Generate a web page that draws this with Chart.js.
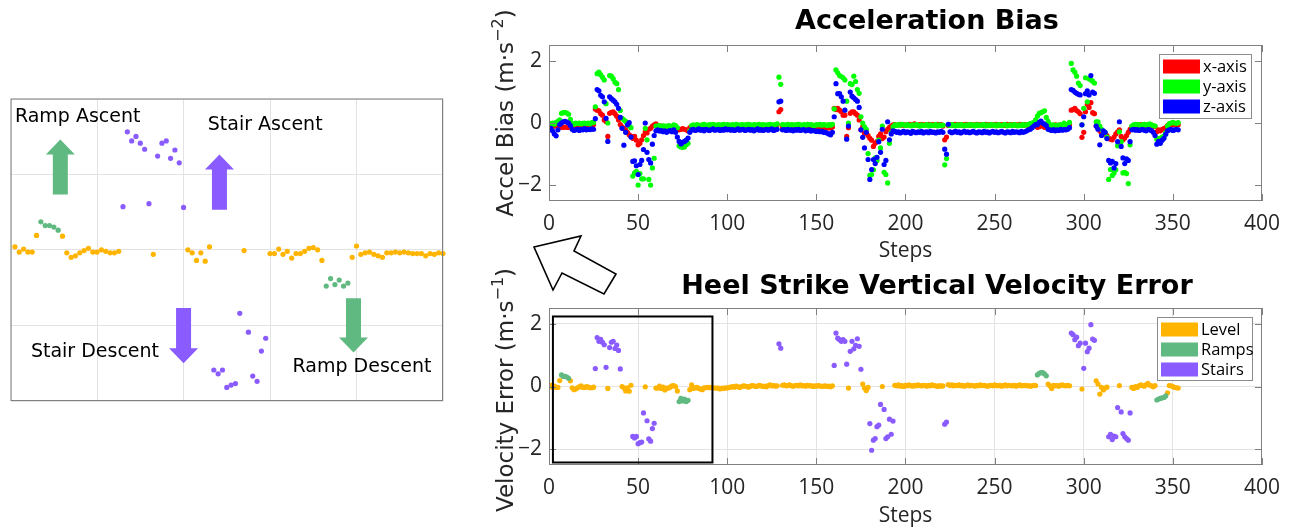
<!DOCTYPE html>
<html>
<head>
<meta charset="utf-8">
<script src="https://cdn.jsdelivr.net/npm/chart.js@4"></script>
<style>
  html, body { margin: 0; padding: 0; background: #fff; }
  body { width: 1290px; height: 529px; position: relative; overflow: hidden; }
  canvas, svg { position: absolute; }
</style>
</head>
<body>
<canvas id="inset" width="438" height="308" style="left:8px;top:96px"></canvas>
<canvas id="bias" width="810" height="268" style="left:480px;top:0px"></canvas>
<canvas id="velocity" width="810" height="261" style="left:480px;top:268px"></canvas>
<svg width="1290" height="529" style="left:0;top:0;pointer-events:none">
  <!-- pointer from the zoom box to the enlarged view -->
  <polygon points="534,247 581,236 574,251 616,274 604,294 562,273 553,290"
           fill="#fff" stroke="#000" stroke-width="1.6" stroke-linejoin="miter"/>
</svg>
<script>
// step index of every heel strike
const steps = Array.from({ length: 353 }, (_, i) => i + 1);

// accelerometer bias estimate per step (m/s^2)
const biasX = [
  -0.06,-0.08,-0.10,-0.08,-0.06,-0.10,-0.14,-0.14,-0.13,-0.14,
  -0.14,-0.10,-0.08,-0.06,-0.08,-0.06,-0.08,-0.10,-0.06,-0.08,
  -0.07,-0.06,-0.09,-0.06,-0.05,0.45,0.41,0.39,0.30,0.25,
  0.10,0.05,-0.43,0.31,0.34,0.36,0.30,0.22,0.10,-0.05,
  -0.12,-0.18,-0.22,-0.30,-0.38,-0.42,-0.49,-0.43,-0.55,-0.70,
  -0.65,-0.54,-0.40,-0.28,-0.32,-0.20,-0.17,-0.10,-0.06,-0.03,
  -0.12,-0.15,-0.10,-0.14,-0.18,-0.12,-0.10,-0.14,-0.12,-0.16,
  -0.20,-0.18,-0.22,-0.20,-0.18,-0.20,-0.22,-0.25,-0.15,-0.12,
  -0.13,-0.17,-0.15,-0.12,-0.16,-0.14,-0.18,-0.15,-0.13,-0.16,
  -0.14,-0.17,-0.15,-0.13,-0.16,-0.18,-0.14,-0.15,-0.17,-0.13,
  -0.15,-0.16,-0.14,-0.18,-0.15,-0.13,-0.16,-0.15,-0.17,-0.14,
  -0.16,-0.13,-0.15,-0.17,-0.14,-0.16,-0.15,-0.13,-0.17,-0.15,
  -0.14,-0.16,-0.13,-0.15,-0.17,-0.14,-0.10,-0.06,0.36,0.43,
  -0.13,-0.15,-0.17,-0.14,-0.16,-0.15,-0.13,-0.17,-0.15,-0.14,
  -0.16,-0.15,-0.13,-0.17,-0.14,-0.16,-0.15,-0.13,-0.15,-0.17,
  -0.14,-0.16,-0.13,-0.15,-0.17,-0.14,-0.16,-0.15,-0.13,0.47,
  0.43,0.47,0.41,0.36,0.25,0.25,-0.43,-0.15,0.31,0.36,
  0.36,0.30,0.25,0.10,-0.22,-0.12,-0.33,-0.30,-0.40,-0.49,
  -0.55,-0.75,-0.65,-0.60,-0.43,-0.35,-0.50,-0.45,-0.28,-0.20,
  -0.14,-0.10,-0.06,-0.05,-0.08,-0.06,-0.04,-0.07,-0.05,-0.08,
  -0.06,-0.04,-0.07,-0.05,-0.03,-0.06,-0.08,-0.05,-0.04,-0.07,
  -0.05,-0.06,-0.04,-0.08,-0.05,-0.06,-0.07,-0.04,-0.06,-0.05,
  -0.10,-0.54,-0.45,-0.08,-0.05,-0.07,-0.06,-0.04,-0.08,-0.05,
  -0.06,-0.07,-0.05,-0.04,-0.06,-0.08,-0.05,-0.07,-0.06,-0.04,
  -0.07,-0.05,-0.06,-0.08,-0.04,-0.06,-0.05,-0.07,-0.06,-0.05,
  -0.04,-0.07,-0.06,-0.05,-0.08,-0.06,-0.04,-0.07,-0.05,-0.06,
  -0.05,-0.07,-0.06,-0.04,-0.06,-0.08,-0.05,-0.06,-0.07,-0.05,
  -0.06,-0.04,-0.08,-0.14,-0.12,-0.08,-0.10,-0.14,-0.12,-0.10,
  -0.12,-0.08,-0.10,-0.06,-0.09,-0.07,-0.10,-0.08,-0.06,-0.09,
  -0.07,-0.05,0.41,0.43,0.47,0.40,0.36,0.30,-0.46,-0.30,
  0.36,0.60,0.50,0.65,0.33,0.30,-0.10,-0.17,-0.25,-0.33,
  -0.30,-0.35,-0.40,-0.49,-0.52,-0.54,-0.45,-0.35,-0.28,-0.22,
  -0.43,-0.54,-0.48,-0.40,-0.30,-0.20,-0.12,-0.08,-0.10,-0.06,
  -0.08,-0.05,-0.07,-0.09,-0.06,-0.08,-0.05,-0.07,-0.10,-0.12,
  -0.28,-0.22,-0.25,-0.20,-0.18,-0.15,-0.08,-0.05,-0.03,-0.06,
  -0.04,-0.05,-0.06
];
const biasY = [
  -0.02,0.00,-0.04,0.02,0.05,0.10,0.31,0.33,0.34,0.32,
  0.28,0.12,-0.02,-0.04,0.00,-0.02,0.00,-0.03,-0.01,0.00,
  -0.02,0.00,-0.03,0.01,0.02,0.52,1.58,1.63,1.55,1.47,
  1.38,0.62,0.00,1.52,1.50,1.42,1.31,1.26,1.07,0.40,
  0.15,0.10,0.05,-0.05,-0.10,-0.15,-1.70,-1.60,-1.55,-1.99,
  -1.62,-1.79,-1.79,-0.17,-0.54,-1.81,-1.99,-1.44,-1.13,-0.10,
  -0.10,-0.08,-0.12,-0.09,-0.10,-0.14,-0.08,-0.10,-0.12,-0.06,
  -0.08,-0.15,-0.73,-0.77,-0.78,-0.77,-0.70,-0.65,-0.25,-0.08,
  -0.06,-0.08,-0.05,-0.07,-0.09,-0.06,-0.04,-0.07,-0.08,-0.05,
  -0.07,-0.04,-0.06,-0.08,-0.05,-0.07,-0.06,-0.04,-0.07,-0.05,
  -0.06,-0.08,-0.05,-0.07,-0.04,-0.06,-0.08,-0.05,-0.06,-0.07,
  -0.05,-0.04,-0.06,-0.08,-0.05,-0.07,-0.06,-0.04,-0.07,-0.05,
  -0.06,-0.08,-0.05,-0.04,-0.06,-0.07,-0.05,-0.03,1.47,1.24,
  -0.05,-0.07,-0.06,-0.04,-0.08,-0.05,-0.06,-0.07,-0.05,-0.04,
  -0.06,-0.08,-0.05,-0.07,-0.04,-0.06,-0.05,-0.07,-0.08,-0.05,
  -0.06,-0.04,-0.07,-0.05,-0.06,-0.08,-0.05,-0.07,-0.04,0.45,
  1.70,1.61,1.52,1.49,1.45,1.38,0.70,0.00,1.26,1.23,
  1.50,1.33,1.07,0.95,0.20,0.00,-0.12,-0.20,-0.98,-1.68,
  -1.65,-1.50,-1.12,-1.20,-0.55,-0.80,-0.10,-1.58,-1.65,-1.92,
  -0.65,-0.30,-0.12,-0.06,-0.08,-0.05,-0.07,-0.04,-0.06,-0.08,
  -0.05,-0.07,-0.09,-0.06,-0.08,-0.05,-0.07,-0.10,-0.06,-0.08,
  -0.07,-0.05,-0.09,-0.06,-0.08,-0.07,-0.05,-0.09,-0.06,-0.08,
  -0.07,-1.34,-1.14,-0.06,-0.08,-0.05,-0.07,-0.09,-0.06,-0.08,
  -0.05,-0.07,-0.09,-0.06,-0.08,-0.05,-0.07,-0.06,-0.09,-0.05,
  -0.08,-0.06,-0.07,-0.05,-0.09,-0.06,-0.08,-0.05,-0.07,-0.06,
  -0.09,-0.05,-0.07,-0.08,-0.06,-0.05,-0.09,-0.07,-0.06,-0.08,
  -0.05,-0.07,-0.09,-0.06,-0.08,-0.05,-0.07,-0.06,-0.04,-0.02,
  0.00,0.02,0.10,0.22,0.31,0.33,0.36,0.39,0.18,0.05,
  -0.04,-0.08,-0.06,-0.10,-0.07,-0.09,-0.05,-0.08,0.00,-0.06,
  -0.04,0.02,1.91,1.70,1.63,1.50,1.28,1.20,-0.06,0.47,
  1.45,0.68,1.42,1.38,1.34,1.28,0.04,0.04,-0.10,-0.20,
  -0.28,-0.30,-0.45,-1.81,-1.49,-1.68,-1.60,-1.50,-0.73,-0.28,
  -0.60,-1.60,-1.58,-1.62,-1.94,-0.70,-0.10,-0.06,-0.04,-0.07,
  -0.05,-0.08,-0.06,-0.04,-0.07,-0.05,-0.03,-0.06,-0.08,-0.10,
  -0.52,-0.50,-0.48,-0.45,-0.43,-0.31,-0.10,-0.02,0.00,0.02,
  0.00,-0.01,0.01
];
const biasZ = [
  -0.17,-0.25,-0.35,-0.41,-0.22,-0.05,0.00,0.04,0.05,0.03,
  0.00,-0.08,-0.20,-0.24,-0.22,-0.20,-0.24,-0.20,-0.22,-0.18,
  -0.22,-0.20,-0.21,-0.19,-0.20,0.14,1.07,1.03,0.89,0.84,
  0.68,0.15,-0.59,0.84,0.78,0.73,0.68,0.60,0.47,0.18,
  -0.17,-0.71,-0.30,-0.06,0.01,-0.45,-1.23,-1.21,-1.37,-1.65,
  -1.33,-1.20,-0.85,0.00,-0.94,-1.17,-1.28,-0.68,-0.40,-0.25,
  -0.22,-0.26,-0.24,-0.28,-0.25,-0.30,-0.26,-0.24,-0.28,-0.22,
  -0.30,-0.45,-0.59,-0.67,-0.62,-0.59,-0.55,-0.48,-0.30,-0.22,
  -0.20,-0.24,-0.22,-0.19,-0.23,-0.21,-0.25,-0.20,-0.22,-0.24,
  -0.21,-0.19,-0.23,-0.22,-0.20,-0.24,-0.21,-0.23,-0.19,-0.22,
  -0.20,-0.23,-0.21,-0.24,-0.22,-0.19,-0.23,-0.21,-0.20,-0.24,
  -0.22,-0.20,-0.23,-0.21,-0.25,-0.22,-0.19,-0.23,-0.21,-0.24,
  -0.22,-0.20,-0.23,-0.21,-0.19,-0.24,-0.22,-0.20,0.68,0.70,
  -0.22,-0.21,-0.24,-0.20,-0.23,-0.22,-0.25,-0.21,-0.23,-0.20,
  -0.24,-0.22,-0.21,-0.25,-0.23,-0.22,-0.26,-0.24,-0.25,-0.27,
  -0.26,-0.28,-0.27,-0.30,-0.29,-0.32,-0.35,-0.38,-0.30,0.20,
  1.26,0.94,0.94,0.84,0.70,0.41,-0.52,-0.10,0.99,0.86,
  0.81,0.75,0.70,0.50,-0.22,-0.46,-0.80,-0.30,-1.17,-1.81,
  -1.49,-1.17,-1.30,-1.10,-0.60,-0.94,-0.20,-1.33,-1.20,0.04,
  -0.54,-0.35,-0.25,-0.27,-0.30,-0.28,-0.32,-0.29,-0.27,-0.31,
  -0.28,-0.30,-0.33,-0.27,-0.29,-0.31,-0.28,-0.30,-0.27,-0.32,
  -0.29,-0.28,-0.31,-0.27,-0.30,-0.29,-0.32,-0.28,-0.30,-0.27,
  -0.30,-0.84,-1.00,-0.04,-0.28,-0.31,-0.29,-0.27,-0.30,-0.28,
  -0.32,-0.29,-0.27,-0.30,-0.28,-0.31,-0.29,-0.27,-0.30,-0.32,
  -0.28,-0.29,-0.31,-0.27,-0.30,-0.28,-0.32,-0.29,-0.27,-0.30,
  -0.28,-0.31,-0.29,-0.27,-0.30,-0.32,-0.28,-0.29,-0.31,-0.27,
  -0.30,-0.28,-0.29,-0.31,-0.27,-0.30,-0.28,-0.25,-0.22,-0.20,
  -0.15,-0.10,-0.05,-0.06,0.02,0.06,0.00,-0.04,-0.08,-0.20,
  -0.22,-0.24,-0.21,-0.25,-0.22,-0.24,-0.20,-0.23,-0.21,-0.22,
  -0.20,-0.15,1.07,1.05,0.99,0.95,0.92,0.90,-0.06,0.20,
  0.94,1.03,0.90,1.52,0.99,0.95,-0.10,-0.20,-0.70,-0.40,
  -0.25,-0.30,-0.50,-1.20,-1.28,-1.23,-1.44,-1.30,-0.60,0.04,
  -0.75,-1.12,-1.30,-1.15,-1.20,-0.60,-0.22,-0.20,-0.23,-0.21,
  -0.24,-0.22,-0.20,-0.23,-0.25,-0.21,-0.22,-0.24,-0.30,-0.40,
  -0.68,-0.59,-0.65,-0.55,-0.49,-0.36,-0.25,-0.22,-0.20,-0.24,
  -0.22,-0.20,-0.22
];

// vertical velocity error at heel strike (m/s)
const velError = [
  0.04,-0.03,0.01,-0.03,-0.03,0.19,0.37,0.32,0.32,0.30,
  0.26,0.18,-0.04,-0.10,-0.08,-0.04,-0.01,0.02,-0.03,-0.03,
  0.00,-0.02,-0.04,-0.04,-0.02,0.57,1.56,1.44,1.50,1.41,
  1.33,0.61,-0.06,1.24,1.41,1.44,1.21,1.32,1.15,0.56,
  0.00,-0.04,-0.14,-0.04,-0.15,0.04,-1.59,-1.64,-1.59,-1.82,
  -1.79,-1.77,-0.84,-0.01,-1.09,-1.67,-1.74,-1.34,-1.17,-0.05,
  -0.05,0.01,-0.06,-0.02,-0.11,-0.05,-0.05,-0.02,0.02,0.03,
  0.00,-0.14,-0.48,-0.38,-0.46,-0.40,-0.48,-0.44,-0.10,0.05,
  -0.06,-0.04,-0.03,-0.06,-0.08,-0.10,-0.04,-0.04,-0.03,-0.04,
  -0.03,-0.04,-0.05,-0.05,-0.05,-0.08,-0.05,-0.06,-0.04,-0.05,
  -0.03,-0.02,0.00,-0.02,0.01,-0.01,-0.03,0.00,0.02,0.01,
  0.00,-0.02,0.01,0.03,0.02,0.00,0.01,0.04,0.02,0.00,
  0.01,-0.01,0.03,0.05,0.02,0.03,0.01,0.02,1.36,1.22,
  0.04,0.05,0.02,0.03,0.05,0.02,0.01,0.03,0.04,0.02,
  0.05,0.02,0.03,0.01,0.04,0.02,0.03,0.00,0.02,0.01,
  0.03,0.02,0.00,0.01,0.02,0.00,0.01,-0.01,0.02,0.67,
  1.70,1.54,1.49,1.44,1.49,1.44,0.71,-0.05,1.12,1.44,
  1.20,1.31,1.52,1.28,0.55,0.08,-0.05,-0.13,-0.03,-1.18,
  -2.03,-1.71,-1.66,-1.28,-1.23,-0.57,0.00,-0.73,-1.66,-1.60,
  -1.04,-1.52,-1.10,0.04,0.02,0.05,0.01,0.03,0.00,0.04,
  0.02,0.05,0.03,0.01,0.04,0.02,0.05,0.03,0.02,0.04,
  0.03,0.01,0.04,0.02,0.05,0.03,0.02,0.00,0.03,0.01,
  0.02,-1.20,-1.13,0.06,0.03,0.05,0.02,0.04,0.03,0.05,
  0.02,0.04,0.01,0.03,0.05,0.02,0.04,0.03,0.01,0.04,
  0.02,0.05,0.03,0.04,0.02,0.01,0.03,0.04,0.02,0.05,
  0.03,0.02,0.04,0.01,0.03,0.05,0.02,0.04,0.03,0.02,
  0.04,0.01,0.03,0.05,0.02,0.03,0.04,0.02,0.03,0.01,
  0.02,0.04,0.03,0.37,0.42,0.44,0.44,0.40,0.34,0.08,
  0.02,-0.06,0.04,0.02,0.03,0.01,0.04,0.05,0.03,0.02,
  0.04,0.02,1.70,1.65,1.49,1.57,1.30,1.38,-0.08,0.58,
  1.38,1.11,1.22,1.97,1.51,1.47,0.18,0.08,-0.24,-0.03,
  -0.11,-0.05,-0.02,-1.60,-1.52,-1.69,-1.58,-1.60,-0.67,0.03,
  -0.81,-1.50,-1.60,-1.66,-1.71,-0.84,-0.03,-0.06,0.00,-0.03,
  0.02,0.05,0.03,0.01,0.06,0.10,0.04,0.02,-0.01,0.03,
  -0.43,-0.40,-0.38,-0.36,-0.35,-0.30,-0.20,0.03,0.02,0.00,
  -0.03,-0.04,-0.05
];

// terrain at each step: L = level, R = ramp, S = stairs
const terrain = [
  'LLLLLLRRRR','RLLLLLLLLL','LLLLLSSSSS','SSLSSSSSSS','LLLLLLSSSS',
  'SSSLSSSSSL','LLLLLLLLLL','LLRRRRRRLL','LLLLLLLLLL','LLLLLLLLLL',
  'LLLLLLLLLL','LLLLLLLLLL','LLLLLLLLSS','LLLLLLLLLL','LLLLLLLLLL',
  'LLLLLLLLLS','SSSSSSSLSS','SSSSSLLLLS','SSSSSSLSSS','SSSLLLLLLL',
  'LLLLLLLLLL','LLLLLLLLLL','LSSLLLLLLL','LLLLLLLLLL','LLLLLLLLLL',
  'LLLLLLLLLL','LLLLLLLLLL','LLLRRRRRRL','LLLLLLLLLL','LLSSSSSSLS',
  'SSSSSSLLLL','LLLSSSSSSL','SSSSSSLLLL','LLLLLLLLLL','RRRRRRLLLL',
  'LLL'
].join('');

const terrainNames = { L: 'Level', R: 'Ramps', S: 'Stairs' };
const terrainColors = { L: '#ffb400', R: '#60b981', S: '#8a5bff' };
const axisNames = ['x-axis', 'y-axis', 'z-axis'];
const axisColors = ['#ff0000', '#00ff00', '#0000ff'];

const stepTicks = [0, 50, 100, 150, 200, 250, 300, 350, 400];
const valueTicks = [-2, 0, 2];
const insetStepTicks = [0, 20, 40, 60, 80, 100];
const insetValueTicks = [-2, -1, 0, 1, 2];

// the region of the velocity plot that is enlarged on the left
const zoomWindow = { x0: 2.2, x1: 91.7, y0: -2.42, y1: 2.23 };
const insetRange = { xMin: 0, xMax: 100, yMin: -2, yMax: 2 };

// terrain arrows and captions inside the enlarged view (data units)
const insetArrows = [
  { x: 11.5, from: 0.73, to: 1.46, color: terrainColors.R },
  { x: 48.3, from: 0.53, to: 1.26, color: terrainColors.S },
  { x: 40.0, from: -0.77, to: -1.50, color: terrainColors.S },
  { x: 79.3, from: -0.64, to: -1.36, color: terrainColors.R }
];
const insetCaptions = [
  { text: 'Ramp Ascent', x: 1.0, y: 1.76 },
  { text: 'Stair Ascent', x: 45.6, y: 1.65 },
  { text: 'Stair Descent', x: 4.7, y: -1.35 },
  { text: 'Ramp Descent', x: 65.2, y: -1.55 }
];

const tickFont = { family: '"Open Sans"', size: 21 };
const tickColor = '#262626';
const frameColor = '#808080';

const toPoints = vals => vals.map((v, i) => ({ x: steps[i], y: v }));
const byTerrain = (code, maxStep) => velError
  .map((v, i) => ({ x: steps[i], y: v }))
  .filter((p, i) => terrain[i] === code && p.x <= maxStep);
const minusSign = v => String(v).replace('-', '\u2212');
const fixTicks = list => scale => { scale.ticks = list.map(v => ({ value: v })); };

// box around the plot with inward tick marks on all four sides
const frameTicks = {
  id: 'frameTicks',
  afterDatasetsDraw(chart, args, opts) {
    const { ctx, chartArea: a, scales: { x, y } } = chart;
    ctx.save();
    ctx.strokeStyle = opts.color || frameColor;
    ctx.lineWidth = 1;
    ctx.strokeRect(a.left + 0.5, a.top + 0.5, a.width - 1, a.height - 1);
    const len = opts.tickLen || 0;
    if (len) {
      ctx.beginPath();
      x.ticks.forEach(t => {
        const px = Math.round(x.getPixelForValue(t.value)) + 0.5;
        ctx.moveTo(px, a.bottom); ctx.lineTo(px, a.bottom - len);
        ctx.moveTo(px, a.top); ctx.lineTo(px, a.top + len);
      });
      y.ticks.forEach(t => {
        const py = Math.round(y.getPixelForValue(t.value)) + 0.5;
        ctx.moveTo(a.left, py); ctx.lineTo(a.left + len, py);
        ctx.moveTo(a.right, py); ctx.lineTo(a.right - len, py);
      });
      ctx.stroke();
    }
    ctx.restore();
  }
};

// bold panel heading
const panelTitle = {
  id: 'panelTitle',
  afterDraw(chart, args, opts) {
    if (!opts.text) return;
    const { ctx } = chart;
    ctx.save();
    ctx.font = 'bold 27px "DejaVu Sans"';
    ctx.fillStyle = '#000';
    ctx.textAlign = 'center';
    ctx.textBaseline = 'middle';
    ctx.fillText(opts.text, opts.x, opts.y);
    ctx.restore();
  }
};

// rotated y label with a raised exponent, e.g. (m·s^-2)
const sideLabel = {
  id: 'sideLabel',
  afterDraw(chart, args, opts) {
    if (!opts.base) return;
    const { ctx } = chart;
    const main = '23px "DejaVu Sans"', small = '16px "DejaVu Sans"';
    ctx.save();
    ctx.translate(opts.x, opts.y);
    ctx.rotate(-Math.PI / 2);
    ctx.fillStyle = tickColor;
    ctx.textBaseline = 'middle';
    ctx.font = main;
    const w1 = ctx.measureText(opts.base).width;
    const w3 = ctx.measureText(')').width;
    ctx.font = small;
    const w2 = ctx.measureText(opts.exp).width;
    let cx = -(w1 + w2 + w3) / 2;
    ctx.font = main;
    ctx.fillText(opts.base, cx, 0);
    cx += w1;
    ctx.font = small;
    ctx.fillText(opts.exp, cx, -8);
    cx += w2;
    ctx.font = main;
    ctx.fillText(')', cx, 0);
    ctx.restore();
  }
};

// legend box in the upper right corner of the plot
const boxLegend = {
  id: 'boxLegend',
  afterDraw(chart, args, opts) {
    if (!opts.width) return;
    const { ctx, chartArea: a } = chart;
    const x0 = a.right - opts.right - opts.width;
    const y0 = a.top + opts.top;
    ctx.save();
    ctx.fillStyle = '#fff';
    ctx.fillRect(x0, y0, opts.width, opts.height);
    ctx.strokeStyle = '#8c8c8c';
    ctx.lineWidth = 1;
    ctx.strokeRect(x0 + 0.5, y0 + 0.5, opts.width, opts.height);
    ctx.font = '16.5px "Open Sans"';
    ctx.textBaseline = 'middle';
    chart.data.datasets.forEach((ds, i) => {
      const cy = y0 + 12.5 + i * 20;
      ctx.fillStyle = ds.backgroundColor;
      ctx.fillRect(x0 + 4, cy - 7, 37, 14);
      ctx.fillStyle = '#000';
      ctx.fillText(ds.label, x0 + 44, cy + 1);
    });
    ctx.restore();
  }
};

// black rectangle marking the enlarged window
const zoomFrame = {
  id: 'zoomFrame',
  afterDatasetsDraw(chart, args, opts) {
    if (!opts.box) return;
    const { ctx, scales: { x, y } } = chart;
    const l = x.getPixelForValue(opts.box.x0), r = x.getPixelForValue(opts.box.x1);
    const t = y.getPixelForValue(opts.box.y1), b = y.getPixelForValue(opts.box.y0);
    ctx.save();
    ctx.strokeStyle = '#000';
    ctx.lineWidth = 2;
    ctx.strokeRect(l, t, r - l, b - t);
    ctx.restore();
  }
};

// block arrows and captions in the enlarged view
const terrainNotes = {
  id: 'terrainNotes',
  afterDatasetsDraw(chart, args, opts) {
    if (!opts.arrows) return;
    const { ctx, scales: { x, y } } = chart;
    ctx.save();
    opts.arrows.forEach(ar => {
      const cx = x.getPixelForValue(ar.x);
      const tail = y.getPixelForValue(ar.from), tip = y.getPixelForValue(ar.to);
      const dir = Math.sign(tip - tail);
      const base = tip - dir * 15;
      ctx.fillStyle = ar.color;
      ctx.beginPath();
      ctx.moveTo(cx - 7.5, tail);
      ctx.lineTo(cx + 7.5, tail);
      ctx.lineTo(cx + 7.5, base);
      ctx.lineTo(cx + 14.5, base);
      ctx.lineTo(cx, tip);
      ctx.lineTo(cx - 14.5, base);
      ctx.lineTo(cx - 7.5, base);
      ctx.closePath();
      ctx.fill();
    });
    ctx.font = '19px "DejaVu Sans"';
    ctx.fillStyle = '#000';
    ctx.textBaseline = 'middle';
    opts.captions.forEach(c => {
      ctx.fillText(c.text, x.getPixelForValue(c.x), y.getPixelForValue(c.y));
    });
    ctx.restore();
  }
};

const plugins = [frameTicks, panelTitle, sideLabel, boxLegend, zoomFrame, terrainNotes];

function stepAxis(height, titlePad, showGrid) {
  return {
    type: 'linear', min: 0, max: 400,
    afterBuildTicks: fixTicks(stepTicks),
    afterFit: s => { s.height = height; },
    grid: { display: showGrid, color: '#e3e3e3', drawTicks: false },
    border: { display: false },
    ticks: { font: tickFont, color: tickColor, padding: 10, maxRotation: 0 },
    title: { display: true, text: 'Steps', font: tickFont, color: tickColor,
             padding: { top: 0, bottom: titlePad } }
  };
}

function valueAxis(showGrid) {
  return {
    min: -2.5, max: 2.5,
    afterBuildTicks: fixTicks(valueTicks),
    afterFit: s => { s.width = 69; },
    grid: { display: showGrid, color: '#e3e3e3', drawTicks: false },
    border: { display: false },
    ticks: { font: tickFont, color: tickColor, padding: 7, callback: minusSign }
  };
}

const biasSeries = [biasX, biasY, biasZ];

new Chart(document.getElementById('bias'), {
  type: 'scatter',
  plugins,
  data: {
    datasets: biasSeries.map((vals, i) => ({
      label: axisNames[i],
      data: toPoints(vals),
      backgroundColor: axisColors[i],
      borderWidth: 0,
      order: 3 - i
    }))
  },
  options: {
    responsive: false,
    animation: false,
    layout: { padding: { top: 45, right: 21, bottom: 0, left: 0 } },
    elements: { point: { radius: 2.6, hoverRadius: 2.6 } },
    plugins: {
      legend: { display: false },
      tooltip: { enabled: false },
      frameTicks: { tickLen: 7 },
      panelTitle: { text: 'Acceleration Bias', x: 447, y: 22 },
      sideLabel: { base: 'Accel Bias (m\u00b7s', exp: '\u22122', x: 27, y: 113 },
      boxLegend: { width: 92, height: 64, right: 11, top: 9 }
    },
    scales: {
      x: stepAxis(67, 4, false),
      y: valueAxis(false)
    }
  }
});

const codes = ['L', 'R', 'S'];

new Chart(document.getElementById('velocity'), {
  type: 'scatter',
  plugins,
  data: {
    datasets: codes.map((c, i) => ({
      label: terrainNames[c],
      data: byTerrain(c, 400),
      backgroundColor: terrainColors[c],
      borderWidth: 0,
      order: 3 - i
    }))
  },
  options: {
    responsive: false,
    animation: false,
    layout: { padding: { top: 40, right: 21, bottom: 0, left: 0 } },
    elements: { point: { radius: 2.6, hoverRadius: 2.6 } },
    plugins: {
      legend: { display: false },
      tooltip: { enabled: false },
      frameTicks: { tickLen: 7 },
      panelTitle: { text: 'Heel Strike Vertical Velocity Error', x: 457, y: 19 },
      sideLabel: { base: 'Velocity Error (m\u00b7s', exp: '\u22121', x: 27, y: 122 },
      boxLegend: { width: 95, height: 63, right: 10, top: 9 },
      zoomFrame: { box: zoomWindow }
    },
    scales: {
      x: stepAxis(64, 0, true),
      y: valueAxis(true)
    }
  }
});

// enlarged view of the first stair and ramp passes
new Chart(document.getElementById('inset'), {
  type: 'scatter',
  plugins,
  data: {
    datasets: codes.map((c, i) => ({
      label: terrainNames[c],
      data: byTerrain(c, insetRange.xMax),
      backgroundColor: terrainColors[c],
      borderWidth: 0,
      clip: 4,
      order: 3 - i
    }))
  },
  options: {
    responsive: false,
    animation: false,
    layout: { padding: { top: 2, right: 3, bottom: 3, left: 2 } },
    elements: { point: { radius: 2.6, hoverRadius: 2.6 } },
    plugins: {
      legend: { display: false },
      tooltip: { enabled: false },
      frameTicks: { tickLen: 0 },
      terrainNotes: { arrows: insetArrows, captions: insetCaptions }
    },
    scales: {
      x: {
        type: 'linear', min: insetRange.xMin, max: insetRange.xMax,
        afterBuildTicks: fixTicks(insetStepTicks),
        afterFit: s => { s.height = 0; },
        grid: { color: '#e3e3e3', drawTicks: false },
        border: { display: false },
        ticks: { display: false }
      },
      y: {
        min: insetRange.yMin, max: insetRange.yMax,
        afterBuildTicks: fixTicks(insetValueTicks),
        afterFit: s => { s.width = 0; },
        grid: { color: '#e3e3e3', drawTicks: false },
        border: { display: false },
        ticks: { display: false }
      }
    }
  }
});
</script>
</body>
</html>
